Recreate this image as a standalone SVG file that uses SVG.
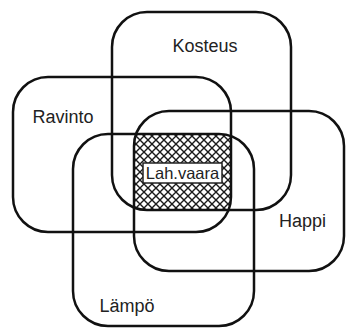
<svg xmlns="http://www.w3.org/2000/svg" width="346" height="331" viewBox="0 0 346 331">
  <style>
    .set { fill: none; stroke: #111; stroke-width: 2.5; }
    .lbl { font-family: "Liberation Sans", Arial, sans-serif; font-size: 18px; fill: #222; text-anchor: middle; }
    .core { font-family: "Liberation Sans", Arial, sans-serif; font-size: 16.5px; fill: #222; text-anchor: middle; }
  </style>
  <defs>
    <pattern id="hatch" patternUnits="userSpaceOnUse" width="8" height="8">
      <path d="M-1,-1 L9,9 M-1,9 L9,-1" stroke="#1a1a1a" stroke-width="1.4" fill="none"/>
    </pattern>
    <clipPath id="cK"><rect x="112" y="12" width="179" height="198" rx="35"/></clipPath>
    <clipPath id="cR"><rect x="13" y="77" width="218" height="155" rx="35"/></clipPath>
    <clipPath id="cH"><rect x="134" y="111" width="210" height="160" rx="35"/></clipPath>
    <clipPath id="cL"><rect x="73" y="134" width="181" height="192" rx="35"/></clipPath>
  </defs>
  <rect width="346" height="331" fill="#fff"/>
  <g id="intersection">
    <g clip-path="url(#cK)">
      <g clip-path="url(#cR)">
        <g clip-path="url(#cH)">
          <rect x="0" y="0" width="346" height="331" fill="url(#hatch)" clip-path="url(#cL)"/>
        </g>
      </g>
    </g>
  </g>
  <g id="kosteus">
    <rect class="set" x="112" y="12" width="179" height="198" rx="35"/>
    <text class="lbl" x="205" y="52">Kosteus</text>
  </g>
  <g id="ravinto">
    <rect class="set" x="13" y="77" width="218" height="155" rx="35"/>
    <text class="lbl" x="63" y="123">Ravinto</text>
  </g>
  <g id="happi">
    <rect class="set" x="134" y="111" width="210" height="160" rx="35"/>
    <text class="lbl" x="302.5" y="227">Happi</text>
  </g>
  <g id="lampo">
    <rect class="set" x="73" y="134" width="181" height="192" rx="35"/>
    <text class="lbl" x="127" y="312">Lämpö</text>
  </g>
  <g id="lahvaara">
    <rect x="143" y="163" width="79" height="20" fill="#fff" stroke="#222" stroke-width="1.5"/>
    <text class="core" x="182.5" y="178.5">Lah.vaara</text>
  </g>
  <g id="connectors"/>
</svg>
